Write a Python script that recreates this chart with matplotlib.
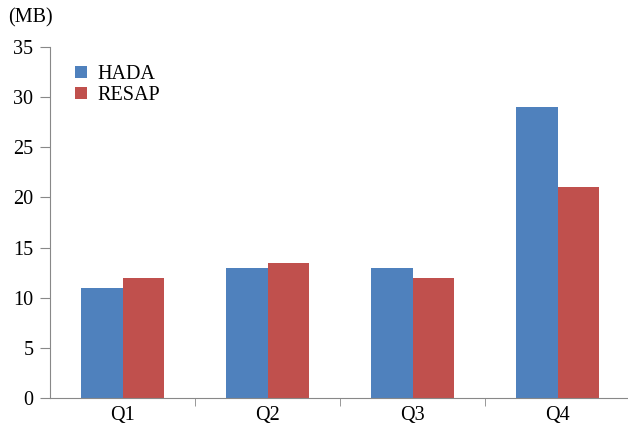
import matplotlib.pyplot as plt
import numpy as np

categories = ['Q1', 'Q2', 'Q3', 'Q4']
hada = [11, 13, 13, 29]
resap = [12, 13.5, 12, 21]

plt.rcParams['font.family'] = ['Liberation Serif', 'DejaVu Serif']

fig = plt.figure(figsize=(6.28, 4.28), dpi=100)
ax = fig.add_axes([50/628, 1 - 398/428, 580/628, (398 - 47)/428])

x = np.arange(len(categories))
width = 0.285

ax.bar(x - width/2, hada, width, color='#4F81BD', label='HADA')
ax.bar(x + width/2, resap, width, color='#C0504D', label='RESAP')

ax.set_xlim(-0.5, 3.5)
ax.set_ylim(0, 35)
ax.set_yticks(range(0, 36, 5))
ax.set_xticks(x)
ax.set_xticklabels(categories)
ax.set_xticks(np.arange(0.5, 3.5, 1), minor=True)

for s in ['top', 'right']:
    ax.spines[s].set_visible(False)
for s in ['left', 'bottom']:
    ax.spines[s].set_color('#888888')

ax.tick_params(axis='y', labelsize=14.5, color='#888888', length=7, pad=5)
ax.tick_params(axis='x', which='major', length=0, labelsize=14.5, pad=6)
ax.tick_params(axis='x', which='minor', length=6, color='#888888')

ax.legend(loc='upper left', bbox_to_anchor=(0.012, 1.0), frameon=False,
          fontsize=14.5, handlelength=0.6, handleheight=0.6, handletextpad=0.5,
          labelspacing=0.1)

fig.text(8/628, 1 - 18/428, '(MB)', fontsize=14.5, va='center', ha='left')

fig.savefig('out.png', dpi=100)
